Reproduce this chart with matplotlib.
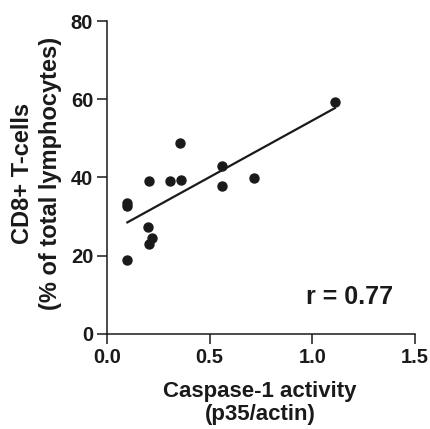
import numpy as np
import matplotlib
matplotlib.use("Agg")
import matplotlib.pyplot as plt

# caspase-1 activity vs CD8+ T-cells
caspase = [1.11, 0.355, 0.558, 0.206, 0.307, 0.359, 0.717, 0.56,
           0.099, 0.099, 0.20, 0.217, 0.206, 0.099]
cd8 = [59.3, 48.8, 43.0, 39.2, 39.0, 39.4, 39.8, 37.9,
       33.4, 32.7, 27.2, 24.6, 22.9, 18.9]
r_label = "r = 0.77"
x_ticks = [0.0, 0.5, 1.0, 1.5]
y_ticks = [0, 20, 40, 60, 80]

plt.rcParams["font.family"] = ["Liberation Sans", "DejaVu Sans"]
plt.rcParams["font.weight"] = "bold"
INK = "#1a1a1a"

W, H = 430, 429
fig = plt.figure(figsize=(W / 100, H / 100), dpi=100)
ax = fig.add_axes([0.249, 0.222, 0.716, 0.729])

x = np.array(caspase)
y = np.array(cd8)
slope, icept = np.polyfit(x, y, 1)
xl = np.array([x.min(), x.max()])
ax.plot(xl, slope * xl + icept, color=INK, linewidth=1.6)
ax.scatter(x, y, s=42, color=INK, zorder=3)

ax.text(1.18, 9.4, r_label, ha="center", va="center", fontsize=18,
        fontweight="bold", color=INK)

ax.set_xlim(0, 1.5)
ax.set_ylim(0, 80)
ax.set_xticks(x_ticks)
ax.set_xticklabels([f"{v:.1f}" for v in x_ticks])
ax.set_yticks(y_ticks)
ax.spines["top"].set_visible(False)
ax.spines["right"].set_visible(False)
for s in ("left", "bottom"):
    ax.spines[s].set_linewidth(1.1)
    ax.spines[s].set_color(INK)
ax.tick_params(axis="both", length=7, width=1.1, labelsize=14.5, pad=3,
               color=INK, labelcolor=INK)
for lbl in ax.get_xticklabels() + ax.get_yticklabels():
    lbl.set_fontweight("bold")


def px(xp, yp):
    return xp / W, 1 - yp / H


# axis titles, two lines each, placed by pixel
fig.text(*px(260, 396.5), "Caspase-1 activity", ha="center", va="baseline",
         fontsize=16, fontweight="bold", color=INK)
fig.text(*px(260, 420), "(p35/actin)", ha="center", va="baseline",
         fontsize=16, fontweight="bold", color=INK)
fig.text(*px(22.5, 173), "CD8+ T-cells", ha="center", va="center", rotation=90,
         fontsize=17, fontweight="bold", color=INK)
fig.text(*px(51, 173), "(% of total lymphocytes)", ha="center", va="center", rotation=90,
         fontsize=17, fontweight="bold", color=INK)

fig.savefig("out.png", dpi=100)
